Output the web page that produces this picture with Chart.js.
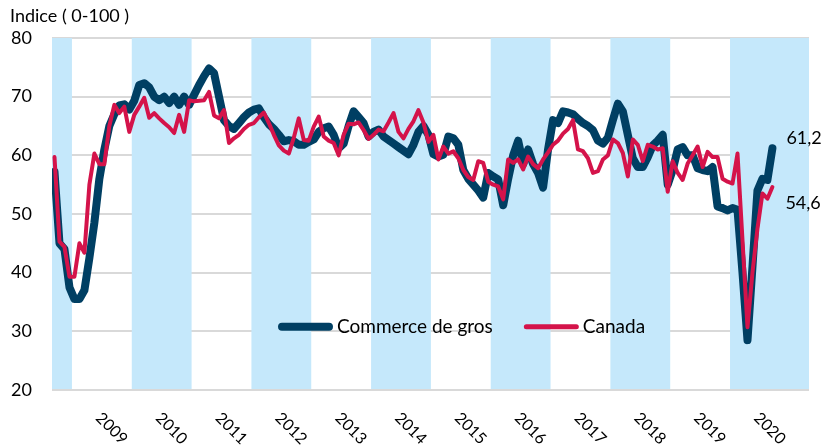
<!DOCTYPE html>
<html>
<head>
<meta charset="utf-8">
<script src="https://cdn.jsdelivr.net/npm/chart.js@4.4.1/dist/chart.umd.min.js"></script>
<style>
  html, body { margin: 0; padding: 0; background: #fff; }
  #wrap { position: relative; width: 823px; height: 447px; }
</style>
</head>
<body>
<div id="wrap"><canvas id="chart"></canvas></div>
<script>
'use strict';

// monthly series, first value = September 2008
const START_YEAR  = 2008;
const START_MONTH = 9;

const yearLabels = ['2009','2010','2011','2012','2013','2014','2015','2016','2017','2018','2019','2020'];
const bandYears  = [2008, 2010, 2012, 2014, 2016, 2018, 2020];
const yTicks     = [20, 30, 40, 50, 60, 70, 80];

const commerceDeGros = [
  57.2, 45, 44, 37.5,                                               // 2008
  35.5, 35.5, 37, 42.5, 48.5, 56, 61, 65, 67, 68.5, 68.7, 67.8,      // 2009
  69.3, 72, 72.3, 71.6, 70, 69.4, 70, 68.9, 70, 68.6, 70, 68.6,      // 2010
  70.3, 72, 73.5, 74.8, 74, 70, 66, 65, 64.5, 65.5, 66.5, 67.3,      // 2011
  67.8, 68, 66.5, 65.3, 64.5, 63.5, 62.4, 62.6, 62.4, 61.8, 61.8, 62.3, // 2012
  62.7, 64, 64.6, 64.9, 63.5, 61.2, 62, 65, 67.5, 66.5, 65.5, 63.2,  // 2013
  64, 64.4, 63.2, 62.6, 62, 61.4, 60.8, 60.2, 61.8, 64, 65, 63.5,    // 2014
  60.2, 59.8, 60.1, 63.2, 62.9, 61.8, 57.5, 56, 55, 54, 52.8, 57,    // 2015
  56.4, 55.9, 51.5, 56, 60, 62.5, 58.5, 61, 58.5, 57, 54.5, 61,      // 2016
  66, 65.5, 67.5, 67.3, 67, 66.2, 65.5, 65, 64.3, 62.5, 62, 63,      // 2017
  66, 68.8, 67.5, 63.5, 59.5, 58, 58, 59.7, 61.7, 62.5, 63.5, 55,    // 2018
  57.5, 61, 61.4, 60, 60, 57.8, 57.5, 57.3, 58, 51.3, 51, 50.6,      // 2019
  51, 50.7, 40, 28.5, 41, 54, 56, 55.8, 61.2                         // 2020
];

const canada = [
  59.7, 45.3, 44.4, 39.3,                                            // 2008
  39.3, 45, 43.4, 55, 60.3, 58.5, 58.5, 65, 68.6, 67.2, 68.3, 64,    // 2009
  66.9, 68.3, 69.8, 66.4, 67.2, 66.3, 65.5, 64.8, 63.8, 66.9, 64, 69.4, // 2010
  69.2, 69.3, 69.4, 70.8, 66.8, 66.3, 67.7, 62.1, 62.9, 63.5, 64.5, 65.2, // 2011
  65.5, 66.5, 67.3, 65.5, 63.5, 61.7, 60.8, 60.3, 63, 66.3, 62.6, 62.5, // 2012
  64.9, 66.6, 63.2, 62.5, 62.1, 60, 63.5, 65.4, 65.3, 65.6, 64.3, 62.8, // 2013
  63.5, 64.4, 64.1, 65.6, 67.2, 64, 62.9, 64.5, 65.8, 67.7, 65.6, 62.3, // 2014
  63.5, 59.3, 61.5, 60.3, 60.7, 59.5, 57.5, 56.3, 55.8, 59, 58.7, 55.5, // 2015
  55, 54.7, 52.5, 59.3, 58.7, 59.3, 57.6, 59.8, 58.5, 57.8, 59.3, 60.5, // 2016
  61.8, 62.5, 63.7, 64.5, 66, 61, 60.7, 59.5, 57, 57.3, 59.3, 60,    // 2017
  62.7, 62.1, 60.4, 56.4, 62.7, 61.8, 59, 61.8, 61.5, 61, 61.2, 53.8, // 2018
  59, 57, 55.8, 58.6, 60, 61.5, 58, 60.6, 59.7, 59.7, 56, 55.5,      // 2019
  55.2, 60.3, 45.5, 30.7, 40, 47.5, 53.5, 52.6, 54.6                 // 2020
];

const BLUE = '#003f63';
const RED  = '#d4134a';
const BAND = '#c5e8fb';
const GRID = '#d9d9d9';
const FONT = 'Lato, "Open Sans", sans-serif';

function toPoints(values) {
  return values.map((v, i) => ({ x: START_YEAR + (START_MONTH - 1 + i + 0.5) / 12, y: v }));
}

// year bands behind the lines
const bandsPlugin = {
  id: 'bands',
  beforeDatasetsDraw(chart) {
    const { ctx, chartArea: a, scales: { x, y } } = chart;
    ctx.save();
    ctx.fillStyle = BAND;
    bandYears.forEach((yr, i) => {
      const x0 = Math.max(x.getPixelForValue(yr), a.left);
      const x1 = i === bandYears.length - 1 ? a.right : Math.min(x.getPixelForValue(yr + 1), a.right);
      ctx.fillRect(x0, a.top, x1 - x0, y.getPixelForValue(yTicks[0]) - a.top);
    });
    const yb = y.getPixelForValue(yTicks[0]);
    ctx.strokeStyle = GRID;
    ctx.lineWidth = 2;
    ctx.beginPath();
    ctx.moveTo(a.left, yb);
    ctx.lineTo(a.right, yb);
    ctx.stroke();
    ctx.restore();
  }
};

// axis title, year labels, legend and end values
const textPlugin = {
  id: 'texts',
  afterDraw(chart) {
    const { ctx, chartArea: a, scales: { x, y } } = chart;
    ctx.save();
    ctx.fillStyle = '#000';

    ctx.font = '18px ' + FONT;
    ctx.textBaseline = 'middle';
    ctx.textAlign = 'left';
    ctx.fillText('Indice ( 0-100 )', 10, 16);

    // rotated year labels
    ctx.font = '16px ' + FONT;
    ctx.textBaseline = 'alphabetic';
    yearLabels.forEach(lbl => {
      const cx = x.getPixelForValue(+lbl + 0.5);
      ctx.save();
      ctx.translate(cx - 7, a.bottom + 29);
      ctx.rotate(Math.PI / 4);
      ctx.fillText(lbl, 0, 0);
      ctx.restore();
    });

    // legend inside the plot
    const ly = y.getPixelForValue(30.8);
    let lx = 278;
    ctx.font = '19px ' + FONT;
    ctx.textBaseline = 'middle';
    chart.data.datasets.forEach(ds => {
      ctx.strokeStyle = ds.borderColor;
      ctx.lineWidth = Math.max(ds.borderWidth, 5);
      ctx.lineCap = 'round';
      ctx.beginPath();
      ctx.moveTo(lx + ctx.lineWidth / 2, ly);
      ctx.lineTo(lx + 55 - ctx.lineWidth / 2, ly);
      ctx.stroke();
      ctx.fillText(ds.label, lx + 59, ly);
      lx += 59 + ctx.measureText(ds.label).width + 31;
    });

    // last value labels
    ctx.font = '18px ' + FONT;
    const offsets = [[14, -10], [13, 16]];
    chart.data.datasets.forEach((ds, i) => {
      const last = ds.data[ds.data.length - 1];
      const px = x.getPixelForValue(last.x) + offsets[i][0];
      const py = y.getPixelForValue(last.y) + offsets[i][1];
      ctx.fillText(last.y.toFixed(1).replace('.', ','), px, py);
    });
    ctx.restore();
  }
};

new Chart(document.getElementById('chart'), {
  type: 'line',
  data: {
    datasets: [
      {
        label: 'Commerce de gros',
        data: toPoints(commerceDeGros),
        borderColor: BLUE,
        borderWidth: 8,
        pointRadius: 0,
        borderJoinStyle: 'round',
        borderCapStyle: 'round',
        tension: 0,
        order: 2
      },
      {
        label: 'Canada',
        data: toPoints(canada),
        borderColor: RED,
        borderWidth: 4,
        pointRadius: 0,
        borderJoinStyle: 'round',
        borderCapStyle: 'round',
        tension: 0,
        order: 1
      }
    ]
  },
  options: {
    responsive: true,
    maintainAspectRatio: false,
    animation: false,
    events: [],
    layout: { padding: { top: 38, right: 14, bottom: 57, left: 0 } },
    plugins: { legend: { display: false }, tooltip: { enabled: false }, title: { display: false } },
    scales: {
      x: {
        type: 'linear',
        min: START_YEAR + (START_MONTH - 1) / 12,
        max: 2021.32,
        display: false
      },
      y: {
        min: yTicks[0],
        max: yTicks[yTicks.length - 1],
        afterFit(scale) { scale.width = 52; },
        afterBuildTicks(scale) { scale.ticks = yTicks.map(v => ({ value: v })); },
        ticks: { color: '#000', font: { family: FONT, size: 18 }, padding: 20 },
        grid: { color: GRID, lineWidth: 2, drawTicks: false },
        border: { display: false }
      }
    }
  },
  plugins: [bandsPlugin, textPlugin]
});
</script>
</body>
</html>
